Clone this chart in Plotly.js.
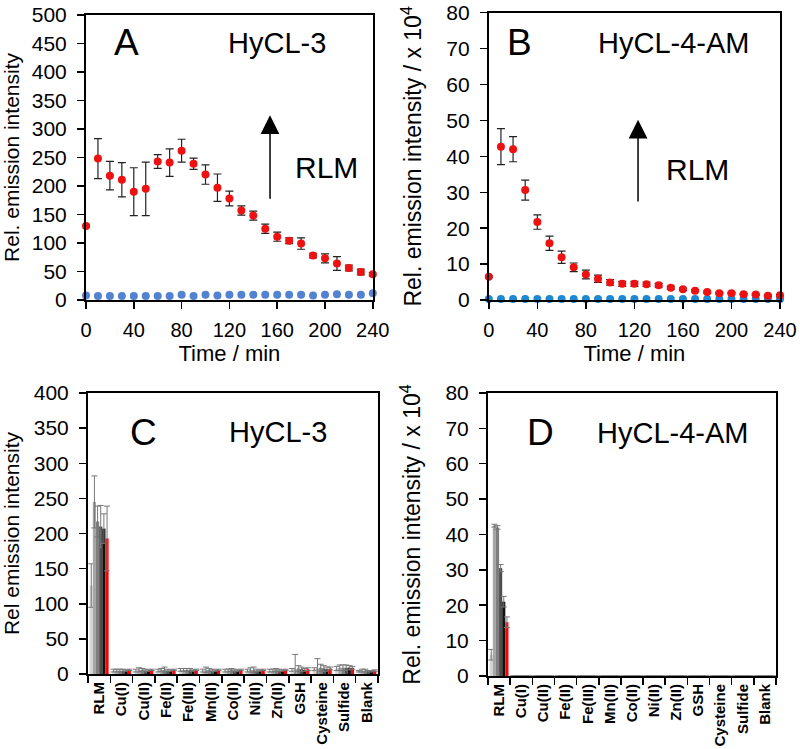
<!DOCTYPE html>
<html>
<head>
<meta charset="utf-8">
<script src="https://cdn.plot.ly/plotly-3.0.1.min.js"></script>
<style>
  html, body { margin: 0; padding: 0; background: #fff; }
  #chart { width: 800px; height: 749px; }
</style>
</head>
<body>
<div id="chart"></div>
<script>
// time course, 0-240 min
const timePoints = [0,10,20,30,40,50,60,70,80,90,100,110,120,130,140,150,160,170,180,190,200,210,220,230,240];

// panel A: HyCL-3
const hycl3Rlm = [130,248,218,211,190,195,243,241,262,239,220,197,178,157,148,125,111,104,99,78,73,64,56,49,45];
const hycl3RlmErr = [2,35,25,30,42,47,12,24,20,10,17,24,13,8,8,8,8,5,10,4,8,12,5,5,3];
const hycl3Ctrl = [8,7,7,7,7,7,7,7,9,7,9,8,9,9,9,9,9,9,9,8,9,10,9,9,12];

// panel B: HyCL-4-AM (x 10^4)
const hycl4Rlm = [6.5,42.7,42,30.6,21.7,15.8,11.9,9.1,7.1,5.9,4.9,4.5,4.5,4.4,4.1,3.4,3.0,2.6,2.2,1.9,1.9,1.6,1.5,1.2,1.3];
const hycl4RlmErr = [0.3,5,3.5,2.8,2,2,1.7,1.2,1.2,1,0.8,0.7,0.7,0.6,0.5,0.4,0.3,0.3,0.3,0.2,0.2,0.2,0.2,0.2,0.2];
const hycl4Ctrl = [0.3,0.3,0.3,0.3,0.3,0.3,0.3,0.3,0.3,0.3,0.3,0.3,0.3,0.3,0.3,0.3,0.3,0.3,0.3,0.3,0.3,0.3,0.3,0.3,0.3];

// panels C/D: selectivity
const analytes = ['RLM','Cu(I)','Cu(II)','Fe(II)','Fe(III)','Mn(II)','Co(II)','Ni(II)','Zn(II)','GSH','Cysteine','Sulfide','Blank'];
const barNames = ['0 min','10 min','20 min','30 min','40 min','50 min'];
const barColors = ['#d4d4d4','#a6a6a6','#7f7f7f','#4d4d4d','#111111','#ff0000'];

const selC = [
  [126,5,5,5,6,5,5,5,5,6,7,8,4],
  [245,5,6,6,6,6,5,6,5,7,8,9,5],
  [217,5,6,6,6,6,6,6,6,8,9,9,5],
  [210,5,5,5,6,5,5,5,5,7,8,9,4],
  [207,5,5,5,5,5,5,5,5,6,7,9,4],
  [193,6,6,6,6,6,6,6,6,7,8,9,5]
];
const selCErr = [
  [31,2,2,2,2,2,2,2,2,2,2,3,1],
  [37,2,3,2,2,4,2,3,2,21,14,4,2],
  [22,2,2,4,2,2,2,4,2,4,5,4,2],
  [30,2,2,2,2,2,2,2,2,3,4,4,1],
  [21,1,1,1,1,1,1,1,1,2,3,3,1],
  [46,1,1,1,1,1,1,1,1,2,2,2,1]
];
const selD = [
  [6,0,0,0,0,0,0,0,0,0,0,0,0],
  [42.5,0,0,0,0,0,0,0,0,0,0,0,0],
  [42,0,0,0,0,0,0,0,0,0,0,0,0],
  [30.5,0,0,0,0,0,0,0,0,0,0,0,0],
  [21,0,0,0,0,0,0,0,0,0,0,0,0],
  [15.2,0,0,0,0,0,0,0,0,0,0,0,0]
];
const selDErr = [
  [1.5,0,0,0,0,0,0,0,0,0,0,0,0],
  [0.4,0,0,0,0,0,0,0,0,0,0,0,0],
  [0.5,0,0,0,0,0,0,0,0,0,0,0,0],
  [1,0,0,0,0,0,0,0,0,0,0,0,0],
  [1.5,0,0,0,0,0,0,0,0,0,0,0,0],
  [1.5,0,0,0,0,0,0,0,0,0,0,0,0]
];

const font = 'Liberation Sans, Arial, sans-serif';

function scatter(y, err, color, xa, ya) {
  const t = {
    x: timePoints, y: y, type: 'scatter', mode: 'markers',
    xaxis: xa, yaxis: ya, cliponaxis: false, showlegend: false,
    marker: { color: color, size: 8 }
  };
  if (err) t.error_y = { type: 'data', array: err, color: '#222', thickness: 1.2, width: 4 };
  return t;
}

const data = [
  scatter(hycl3Ctrl, null, '#5282d0', 'x', 'y'),
  scatter(hycl3Rlm, hycl3RlmErr, '#ee1111', 'x', 'y'),
  scatter(hycl4Ctrl, null, '#1e88d2', 'x2', 'y2'),
  scatter(hycl4Rlm, hycl4RlmErr, '#ee1111', 'x2', 'y2')
];

barNames.forEach((name, i) => {
  data.push({
    x: analytes, y: selC[i], type: 'bar', name: name, xaxis: 'x3', yaxis: 'y3',
    marker: { color: barColors[i] }, showlegend: false,
    error_y: { type: 'data', array: selCErr[i], color: '#777', thickness: 1, width: 3 }
  });
  data.push({
    x: analytes, y: selD[i], type: 'bar', name: name, xaxis: 'x4', yaxis: 'y4',
    marker: { color: barColors[i] }, showlegend: false,
    error_y: { type: 'data', array: selDErr[i], color: '#777', thickness: 1, width: 3 }
  });
});

function frame(extra) {
  return Object.assign({
    showline: true, mirror: true, linecolor: '#000', linewidth: 2,
    ticks: 'outside', ticklen: 7, tickwidth: 1.5, tickcolor: '#000',
    showgrid: false, zeroline: false,
    tickfont: { family: font, size: 21, color: '#000' }
  }, extra);
}

const yTitleFont = { family: font, size: 21, color: '#000' };
const yTitleFont4 = { family: font, size: 23, color: '#000' };
const xTitleFont = { family: font, size: 22, color: '#000' };
const xTickFont = { family: font, size: 20, color: '#000' };
const labelFont = { family: font, size: 15, color: '#000', weight: 'bold' };
const letterFont = { family: font, size: 37, color: '#000' };
const probeFont = { family: font, size: 29, color: '#000' };
const rlmFont = { family: font, size: 30, color: '#000' };

const layout = {
  width: 800, height: 749,
  margin: { l: 0, r: 0, t: 0, b: 0 },
  paper_bgcolor: '#fff', plot_bgcolor: '#fff',
  barmode: 'group', bargap: 0.15, bargroupgap: 0,
  xaxis: frame({ domain: [0.1075, 0.466], anchor: 'y', range: [0, 240], dtick: 40, tickfont: xTickFont,
    ticklabelstandoff: 4, title: { text: 'Time / min', font: xTitleFont, standoff: 6 } }),
  yaxis: frame({ domain: [0.5995, 0.98], anchor: 'x', range: [0, 500], dtick: 50, ticklabelstandoff: 6,
    title: { text: 'Rel. emission intensity', font: yTitleFont, standoff: 12 } }),
  xaxis2: frame({ domain: [0.611, 0.975], anchor: 'y2', range: [0, 240], dtick: 40, tickfont: xTickFont,
    ticklabelstandoff: 4, title: { text: 'Time / min', font: xTitleFont, standoff: 6 } }),
  yaxis2: frame({ domain: [0.5995, 0.983], anchor: 'x2', range: [0, 80], dtick: 10, ticklabelstandoff: 6,
    title: { text: 'Rel. emission intensity / x 10<sup>4</sup>', font: yTitleFont4, standoff: 18 } }),
  xaxis3: frame({ domain: [0.11, 0.4725], anchor: 'y3', tickangle: -90, tickson: 'boundaries',
    tickfont: labelFont, range: [-0.5, 12.5] }),
  yaxis3: frame({ domain: [0.1, 0.4753], anchor: 'x3', range: [0, 400], dtick: 50, ticklabelstandoff: 6,
    title: { text: 'Rel emission intensity', font: yTitleFont, standoff: 12 } }),
  xaxis4: frame({ domain: [0.61, 0.97], anchor: 'y4', tickangle: -90, tickson: 'boundaries',
    tickfont: labelFont, range: [-0.5, 12.5] }),
  yaxis4: frame({ domain: [0.0975, 0.4753], anchor: 'x4', range: [0, 80], dtick: 10, ticklabelstandoff: 6,
    title: { text: 'Rel. emission intensity / x 10<sup>4</sup>', font: yTitleFont4, standoff: 18 } }),
  annotations: [
    { xref: 'x', yref: 'y', x: 34, y: 451, text: 'A', showarrow: false, font: letterFont },
    { xref: 'x', yref: 'y', x: 160, y: 451, text: 'HyCL-3', showarrow: false, font: probeFont },
    { xref: 'x', yref: 'y', x: 201, y: 233, text: 'RLM', showarrow: false, font: rlmFont },
    { xref: 'x', yref: 'y', axref: 'x', ayref: 'y', x: 154, y: 324, ax: 154, ay: 175, text: '',
      showarrow: true, arrowhead: 2, arrowsize: 2.5, arrowwidth: 1.5, arrowcolor: '#000' },
    { xref: 'x2', yref: 'y2', x: 25.6, y: 71.6, text: 'B', showarrow: false, font: letterFont },
    { xref: 'x2', yref: 'y2', x: 152, y: 71.6, text: 'HyCL-4-AM', showarrow: false, font: probeFont },
    { xref: 'x2', yref: 'y2', x: 172, y: 36.2, text: 'RLM', showarrow: false, font: rlmFont },
    { xref: 'x2', yref: 'y2', axref: 'x2', ayref: 'y2', x: 123, y: 50.2, ax: 123, ay: 27, text: '',
      showarrow: true, arrowhead: 2, arrowsize: 2.5, arrowwidth: 1.5, arrowcolor: '#000' },
    { xref: 'x3 domain', yref: 'y3 domain', x: 0.138, y: 0.86, yanchor: 'middle', text: 'C', showarrow: false, font: letterFont },
    { xref: 'x3 domain', yref: 'y3 domain', x: 0.655, y: 0.86, yanchor: 'middle', text: 'HyCL-3', showarrow: false, font: probeFont },
    { xref: 'x4 domain', yref: 'y4 domain', x: 0.128, y: 0.86, yanchor: 'middle', text: 'D', showarrow: false, font: letterFont },
    { xref: 'x4 domain', yref: 'y4 domain', x: 0.642, y: 0.86, yanchor: 'middle', text: 'HyCL-4-AM', showarrow: false, font: probeFont }
  ]
};

Plotly.newPlot('chart', data, layout, { staticPlot: true });
</script>
</body>
</html>
